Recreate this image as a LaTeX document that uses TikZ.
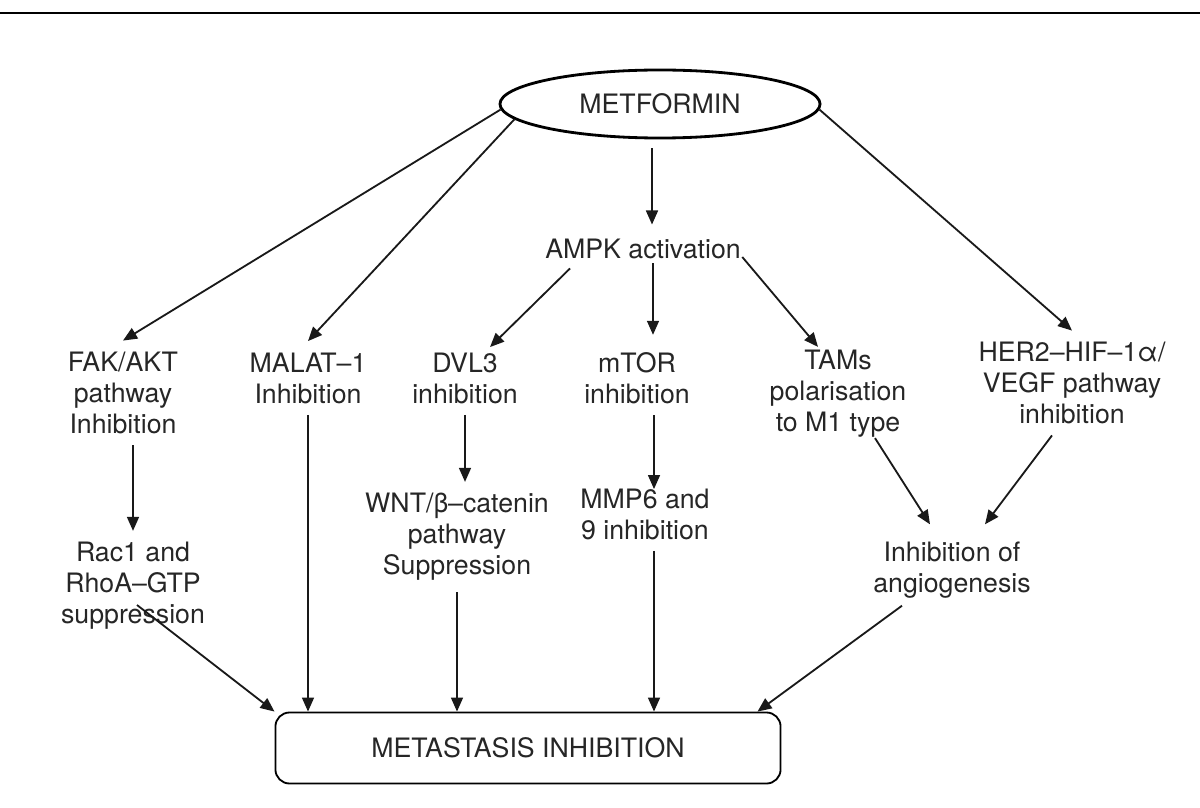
\documentclass[tikz,border=0pt]{standalone}
\usepackage{fontspec}
\setmainfont{TeX Gyre Heros}
\usepackage{tikz}
\usetikzlibrary{arrows.meta, calc, shapes.geometric}

\begin{document}
\begin{tikzpicture}[x=0.025cm, y=-0.025cm,
    font=\fontsize{19}{22}\selectfont, text=black!85,
    lbl/.style={align=center, inner sep=8pt},
    arr/.style={-{Triangle[length=10pt, width=8.5pt]}, line width=1.3pt, black!90},
    drug/.style={ellipse, draw, line width=2pt, minimum width=8cm, minimum height=1.7cm},
    outcome/.style={draw, rounded corners=10pt, line width=1.3pt,
        minimum width=12.625cm, minimum height=1.775cm}]

\useasboundingbox (0,0) rectangle (1200,807);

% ── Header rule ──────────────────────────────────────────────────
\draw[line width=1.2pt] (0,13) -- (1200,13);

% ── Drug and AMPK ────────────────────────────────────────────────
\node[drug] (met) at (660,104) {METFORMIN};
\node[lbl] (ampk) at (643,249) {AMPK activation};

% ── Second row ───────────────────────────────────────────────────
\node[lbl] (fak)   at (123,393)  {FAK/AKT\\pathway\\Inhibition};
\node[lbl] (malat) at (308,378)  {MALAT–1\\Inhibition};
\node[lbl] (dvl)   at (465,378)  {DVL3\\inhibition};
\node[lbl] (mtor)  at (637,378)  {mTOR\\inhibition};
\node[lbl] (tams)  at (838,394)  {TAMs\\polarisation\\to M1 type};
\node[lbl] (her)   at (1072,383) {HER2–HIF–1α/\\VEGF pathway\\inhibition};

% ── Third row ────────────────────────────────────────────────────
\node[lbl] (rac)   at (133,586) {Rac1 and\\RhoA–GTP\\suppression};
\node[lbl] (wnt)   at (457,537) {WNT/β–catenin\\pathway\\Suppression};
\node[lbl] (mmp)   at (645,514) {MMP6 and\\9 inhibition};
\node[lbl] (angio) at (952,570) {Inhibition of\\angiogenesis};

% ── Outcome ──────────────────────────────────────────────────────
\node[outcome] (meta) at (528,748) {METASTASIS INHIBITION};

% From metformin
\draw[arr] (met.182) -- (fak.north);
\draw[arr] (met.186) -- (malat.north);
\draw[arr] ($(met.south)+(-8,9)$) -- ($(ampk.north)+(9,-3)$);
\draw[arr] (met.358) -- (her.north);

% From AMPK
\draw[arr] ($(ampk.south)+(-73,-2)$) -- ($(dvl.north)+(25,6)$);
\draw[arr] ($(ampk.south)+(10,-7)$) -- ($(mtor.north)+(16,-6)$);
\draw[arr] ($(ampk.east)+(-10,8)$) -- ($(tams.north)+(-20,8)$);

% Downstream effects
\draw[arr] (fak.south -| rac.north) -- (rac.north);
\draw[arr] (dvl.south) -- (dvl.south |- wnt.north);
\draw[arr] ($(mtor.south)+(17,0)$) -- ($(mmp.north)+(9,12)$);
\draw[arr] ($(tams.south)+(37,-11)$) -- ($(angio.north)+(-22,-6)$);
\draw[arr] ($(her.south)+(-20,0)$) -- ($(angio.north)+(33,-6)$);

% Into metastasis inhibition
\draw[arr] ($(rac.center)+(4,19)$) -- (meta.north west);
\draw[arr] (malat.south) -- (malat.south |- meta.north);
\draw[arr] (wnt.south) -- (wnt.south |- meta.north);
\draw[arr] ($(mmp.south)+(9,0)$) -- ($(mmp.south |- meta.north)+(9,0)$);
\draw[arr] ($(angio.south)+(-50,-4)$) -- ($(meta.north east)+(-24,0)$);

\end{tikzpicture}
\end{document}
